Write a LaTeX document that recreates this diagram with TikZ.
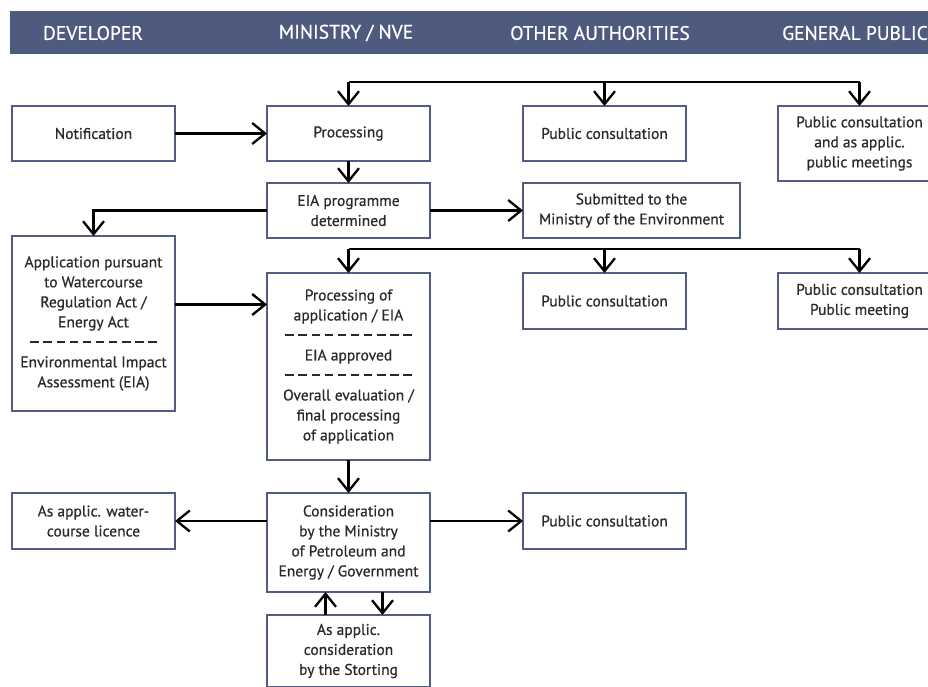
\documentclass[tikz,border=0pt]{standalone}
\usepackage{fontspec}
\setmainfont{PT Sans}[FakeBold=0.7]
\usepackage{tikz}
\usetikzlibrary{arrows.meta,calc,positioning}

\definecolor{headc}{HTML}{4F5A7F}
\definecolor{boxc}{HTML}{525C84}
\definecolor{txtc}{HTML}{2A2A2A}

% dashed separator inside a box
\newcommand\sepline{\hbox to 131pt{\xleaders\hbox to 13.1pt{\hss\rule[4.5pt]{8.5pt}{2.2pt}\hss}\hfill}}

\begin{document}
\begin{tikzpicture}[
  x=1pt,y=-1pt,
  every node/.style={font=\fontsize{15.5}{20}\selectfont},
  box/.style={draw=boxc,line width=2.4pt,minimum width=163pt,minimum height=55pt,
              align=center,text=txtc,inner sep=2pt,outer sep=0pt},
  head/.style={text=white,font=\fontsize{19.5}{22}\selectfont},
  arr/.style={-{Straight Barb[length=13pt,width=21pt,line width=2.3pt]},line width=2.3pt},
  bus/.style={line width=2.3pt}
]
\clip (0,0) rectangle (928,686);
\fill[headc] (10,11) rectangle (940,54);
\node[head] (hDev) at (93,33) {DEVELOPER};
\node[head] (hMin) at (346,33) {MINISTRY / NVE};
\node[head] (hOth) at (600,33) {OTHER AUTHORITIES};
\node[head] (hPub) at (855,33) {GENERAL PUBLIC};

% first row
\node[box] (notif) at (93.5,133.5) {Notification};
\node[box,right=92pt of notif] (proc) {Processing};
\node[box,right=93pt of proc] (pcA) {Public consultation};
\node[box,right=92pt of pcA.north east,anchor=north west,minimum height=75pt] (pubA)
 {Public consultation\\and as applic.\\public meetings};
\coordinate[above=24pt of proc.north] (busA);
\draw[bus] (busA) -- (busA -| pubA.north);
\draw[arr] (busA) -- (proc);
\draw[arr] (busA -| pcA.north) -- (pcA);
\draw[arr] (busA -| pubA.north) -- (pubA);
\draw[arr] (notif) -- (proc);

% EIA programme
\node[box,below=22pt of proc] (eiaprog) {EIA programme\\determined};
\node[box,right=93pt of eiaprog,minimum width=217pt] (subm)
 {Submitted to the\\Ministry of the Environment};
\draw[arr] (proc) -- (eiaprog);
\draw[arr] (eiaprog) -- (subm);
\node[box,below=75pt of notif,minimum height=175pt] (appl)
 {Application pursuant\\to Watercourse\\Regulation Act /\\Energy Act\\\sepline\\
  Environmental Impact\\Assessment (EIA)};
\draw[arr] (eiaprog.west) -| (appl.north);

% application
\node[box,below=35pt of eiaprog,minimum height=187pt] (pa)
 {Processing of\\application / EIA\\\sepline\\EIA approved\\\sepline\\
  Overall evaluation /\\final processing\\of application};
\node[box,right=93pt of pa.north east,anchor=north west,minimum height=56pt] (pcB)
 {Public consultation};
\node[box,right=92pt of pcB,minimum height=56pt] (pubB)
 {Public consultation\\Public meeting};
\coordinate[above=24pt of pa.north] (busB);
\draw[bus] (busB) -- (busB -| pubB.north);
\draw[arr] (busB) -- (pa);
\draw[arr] (busB -| pcB.north) -- (pcB);
\draw[arr] (busB -| pubB.north) -- (pubB);
\draw[arr] ([yshift=19pt]appl.east) -- ([yshift=19pt]appl.east -| pa.west);

% consideration
\node[box,below=33pt of pa,minimum height=99pt] (consid)
 {Consideration\\by the Ministry\\of Petroleum and\\Energy / Government};
\node[box,left=92pt of consid.north west,anchor=north east,minimum height=56pt] (lic)
 {As applic. water-\\course licence};
\node[box,right=93pt of consid.north east,anchor=north west,minimum height=56pt] (pcC)
 {Public consultation};
\node[box,below=23pt of consid,minimum height=72pt] (stor)
 {As applic.\\consideration\\by the Storting};
\draw[arr] (pa) -- (consid);
\draw[arr] (consid.west |- lic) -- (lic);
\draw[arr] (consid.east |- pcC) -- (pcC);
\draw[arr] ([xshift=-23pt]stor.north) -- ([xshift=-23pt]consid.south);
\draw[arr] ([xshift=34pt]consid.south) -- ([xshift=34pt]stor.north);
\end{tikzpicture}
\end{document}
